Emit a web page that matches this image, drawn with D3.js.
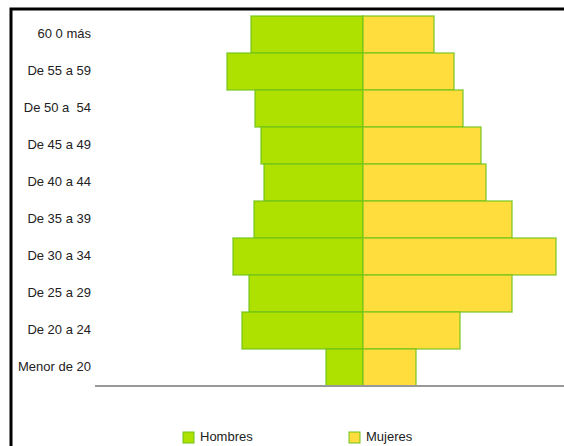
<!DOCTYPE html>
<head>
  <meta charset="utf-8">
  <style>
    body { margin: 0; background: #fff; overflow: hidden; }
    svg { display: block; font-family: 'Liberation Sans', Arial, sans-serif; }
  </style>
  <script src="https://cdn.jsdelivr.net/npm/d3@7"></script>
</head>
<body>
<div id=chart></div>
<script>
// age groups, top to bottom
const groups = ['60 0 más', 'De 55 a 59', 'De 50 a  54', 'De 45 a 49', 'De 40 a 44',
  'De 35 a 39', 'De 30 a 34', 'De 25 a 29', 'De 20 a 24', 'Menor de 20']
const hombres = [112, 136, 108, 102, 99, 109, 130, 114, 121, 37]
const mujeres = [71, 91, 100, 118, 123, 149, 193, 149, 97, 53]
const series = ['Hombres', 'Mujeres']
const colors = ['#aee000', '#fedd3c']

const width = 564, height = 446
const svg = d3.select('#chart').append('svg')
  .attr('width', width).attr('height', height)

// frame (runs off the right and bottom edge)
svg.append('rect')
  .attr('x', 11).attr('y', 9)
  .attr('width', 800).attr('height', 600)
  .attr('fill', 'none').attr('stroke', '#000').attr('stroke-width', 3)

const x = d3.scaleLinear().domain([-270, 270]).range([93, 633])
const y = d3.scaleBand().domain(groups).range([16, 386]).padding(0)

const rows = groups.map((g, i) => ({ g, h: hombres[i], m: mujeres[i] }))

const bars = svg.append('g')
bars.selectAll('.h').data(rows).join('rect').attr('class', 'h')
  .attr('x', d => x(-d.h)).attr('y', d => y(d.g))
  .attr('width', d => x(0) - x(-d.h)).attr('height', y.bandwidth())
  .attr('fill', colors[0])
bars.selectAll('.m').data(rows).join('rect').attr('class', 'm')
  .attr('x', x(0)).attr('y', d => y(d.g))
  .attr('width', d => x(d.m) - x(0)).attr('height', y.bandwidth())
  .attr('fill', colors[1])
// outlines
bars.selectAll('rect')
  .attr('stroke', '#6fc21a').attr('stroke-width', 1.5).attr('stroke-opacity', 0.75)

// labels
svg.append('g').selectAll('text').data(groups).join('text')
  .attr('x', 91).attr('y', d => y(d) + y.bandwidth() / 2)
  .attr('dy', '0.28em')
  .attr('text-anchor', 'end')
  .attr('font-size', 13)
  .attr('fill', '#222')
  .style('white-space', 'pre')
  .text(d => d)

// baseline
svg.append('line')
  .attr('x1', 95).attr('x2', width)
  .attr('y1', 386).attr('y2', 386)
  .attr('stroke', '#999').attr('stroke-width', 2)

// legend
const legend = svg.append('g').selectAll('g').data(series).join('g')
  .attr('transform', (d, i) => `translate(${183 + i * 166},432)`)
legend.append('rect')
  .attr('width', 11).attr('height', 11)
  .attr('fill', (d, i) => colors[i])
  .attr('stroke', '#6fc21a').attr('stroke-width', 1)
legend.append('text')
  .attr('x', 17).attr('y', 9)
  .attr('font-size', 13).attr('fill', '#222')
  .text(d => d)
</script>
</body>
